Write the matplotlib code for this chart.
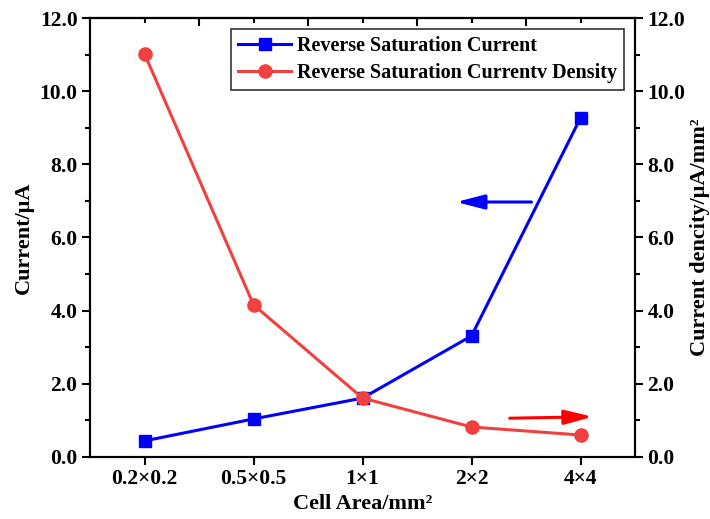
import matplotlib
matplotlib.use("Agg")
import matplotlib.pyplot as plt
from matplotlib.ticker import MultipleLocator, FixedLocator, NullFormatter, FormatStrFormatter

plt.rcParams['font.family'] = ['Liberation Serif', 'DejaVu Serif']
plt.rcParams['font.weight'] = 'bold'

categories = ["0.2×0.2", "0.5×0.5", "1×1", "2×2", "4×4"]
current = [0.44, 1.04, 1.61, 3.31, 9.27]
density = [11.02, 4.16, 1.61, 0.82, 0.60]

blue = "#0000FF"
red = "#F04040"

fig = plt.figure(figsize=(7.10, 5.19), dpi=100)
ax = fig.add_axes([0.1268, 0.1195, 0.7676, 0.8458])
ax2 = ax.twinx()

x = list(range(len(categories)))
l1, = ax.plot(x, current, color=blue, lw=2.2, marker='s', markersize=8.5,
              label="Reverse Saturation Current", zorder=3)
l2, = ax2.plot(x, density, color=red, lw=2.2, marker='o', markersize=9.5,
               label="Reverse Saturation Currentv Density", zorder=3)

ax.set_xlim(-0.5, 4.5)
ax.set_ylim(0, 12)
ax2.set_ylim(0, 12)
ax.set_xticks(x)
ax.set_xticklabels(categories)

for a in (ax, ax2):
    a.yaxis.set_major_locator(MultipleLocator(2))
    a.yaxis.set_minor_locator(MultipleLocator(1))
    a.yaxis.set_major_formatter(FormatStrFormatter('%.1f'))
    for sp in a.spines.values():
        sp.set_linewidth(1.5)

ax.tick_params(axis='both', which='major', direction='out', length=6, width=1.5,
               labelsize=15.5, pad=3)
ax.tick_params(axis='y', which='minor', direction='out', length=3.5, width=1.5)
ax.tick_params(axis='x', which='minor', bottom=False)
ax2.tick_params(axis='y', which='major', direction='out', length=6, width=1.5,
                labelsize=15.5, pad=3)
ax2.tick_params(axis='y', which='minor', direction='out', length=3.5, width=1.5)

for lab in ax.get_xticklabels() + ax.get_yticklabels() + ax2.get_yticklabels():
    lab.set_fontweight('bold')

top = ax.secondary_xaxis('top')
top.xaxis.set_major_locator(FixedLocator([0.5, 1.5, 2.5, 3.5]))
top.xaxis.set_minor_locator(FixedLocator(x))
top.xaxis.set_major_formatter(NullFormatter())
top.tick_params(axis='x', which='major', direction='in', length=6, width=1.5)
top.tick_params(axis='x', which='minor', direction='in', length=3.5, width=1.5)
top.spines['top'].set_linewidth(1.5)

ax.set_xlabel("Cell Area/mm²", fontsize=16, fontweight='bold', labelpad=3)
ax.set_ylabel("Current/μA", fontsize=16, fontweight='bold', labelpad=4)
ax2.set_ylabel("Current dencity/μA/mm²", fontsize=16, fontweight='bold', labelpad=3)

ax.annotate("", xy=(2.86, 6.97), xytext=(3.55, 6.97),
            arrowprops=dict(arrowstyle="-|>,head_length=0.85,head_width=0.22",
                            color=blue, lw=2.2, mutation_scale=20, shrinkA=0, shrinkB=0))
ax2.annotate("", xy=(4.11, 1.1), xytext=(3.35, 1.06),
             arrowprops=dict(arrowstyle="-|>,head_length=0.85,head_width=0.22",
                             color="#FF0000", lw=2.2, mutation_scale=20, shrinkA=0, shrinkB=0))

leg = ax.legend(handles=[l1, l2], loc='upper right',
                prop={'weight': 'bold', 'size': 14.5}, frameon=True, fancybox=False,
                edgecolor='black', borderaxespad=0.55, handlelength=2.6,
                borderpad=0.35, labelspacing=0.35, handletextpad=0.3)
leg.get_frame().set_linewidth(1.2)
leg.set_zorder(5)

fig.savefig("out.png", dpi=100)
